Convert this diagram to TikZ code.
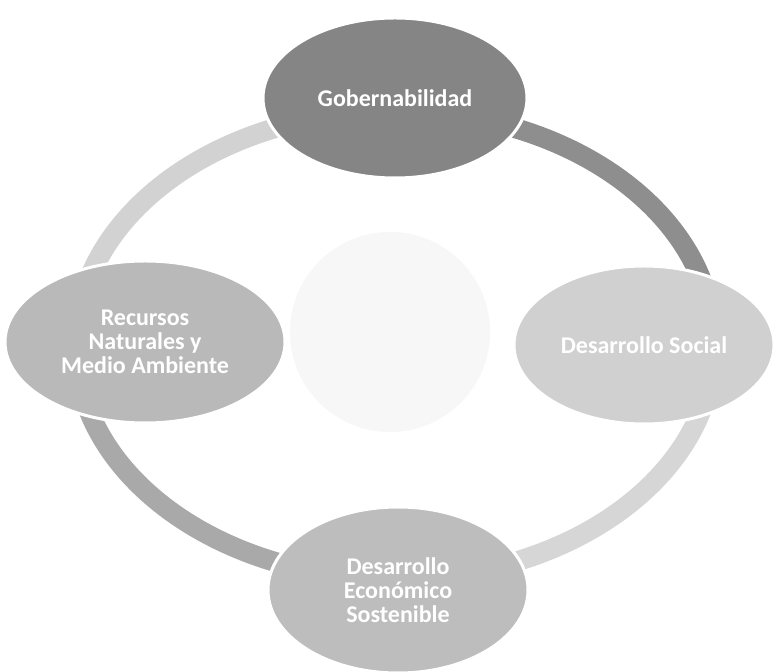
\documentclass[tikz,border=0pt]{standalone}
\usepackage{fontspec}
\setmainfont{Carlito}
\usetikzlibrary{shapes.geometric}
\definecolor{ringLight}{HTML}{D2D2D2}
\definecolor{ringDark}{HTML}{8E8E8E}
\definecolor{ringMid}{HTML}{A9A9A9}
\definecolor{ringPale}{HTML}{D6D6D6}
\definecolor{topFill}{HTML}{858585}
\definecolor{leftFill}{HTML}{B9B9B9}
\definecolor{rightFill}{HTML}{D0D0D0}
\definecolor{botFill}{HTML}{BDBDBD}
\definecolor{hubFill}{HTML}{F7F7F7}
\tikzset{
  blob/.style={ellipse, draw=white, line width=3pt, inner sep=0pt, align=center,
    text=white, font=\fontsize{24}{24}\selectfont\bfseries},
  ringseg/.style={line width=20pt},
}
\begin{document}
\begin{tikzpicture}[x=1pt,y=1pt]
\useasboundingbox (0,0) rectangle (775,671);
\fill[white] (0,0) rectangle (775,671);
\coordinate (c) at (395,326);
% central faint hub
\node[circle, fill=hubFill, minimum size=200pt, inner sep=0pt] (hub) at (390,339) {};
% ring segments
\draw[ringseg, ringDark] ([shift={(0:319 and 234)}]c) arc[start angle=0, end angle=90, x radius=319, y radius=234];
\draw[ringseg, ringLight] ([shift={(90:319 and 234)}]c) arc[start angle=90, end angle=180, x radius=319, y radius=234];
\draw[ringseg, ringMid] ([shift={(180:319 and 234)}]c) arc[start angle=180, end angle=270, x radius=319, y radius=234];
\draw[ringseg, ringPale] ([shift={(270:319 and 234)}]c) arc[start angle=270, end angle=360, x radius=319, y radius=234];
% nodes
\node[blob, fill=topFill, minimum width=264pt, minimum height=160pt] (gob) at (395,573) {Gobernabilidad};
\node[blob, fill=leftFill, minimum width=280pt, minimum height=162pt] (rec) at (145,329) {Recursos\\Naturales y\\Medio Ambiente};
\node[blob, fill=rightFill, minimum width=260pt, minimum height=158pt] (soc) at (644,326) {Desarrollo Social};
\node[blob, fill=botFill, minimum width=260pt, minimum height=166pt] (eco) at (398,81) {Desarrollo\\Económico\\Sostenible};
\end{tikzpicture}
\end{document}
